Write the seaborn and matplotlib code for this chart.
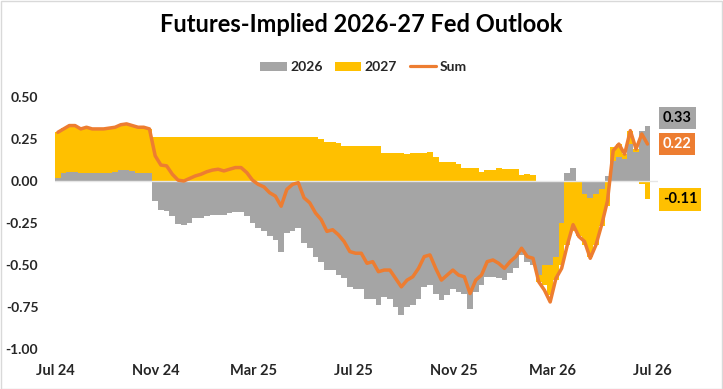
import numpy as np
import pandas as pd
import matplotlib
matplotlib.use("Agg")
import matplotlib.pyplot as plt
import seaborn as sns
from matplotlib.patches import Patch, Rectangle
from matplotlib.lines import Line2D

# ---------------- data (weekly readings) ----------------
week_start = "2024-07-01"
fed_2026 = [0.02, 0.05, 0.055, 0.055, 0.05, 0.05, 0.048, 0.048, 0.05, 0.05,
            0.055, 0.065, 0.065, 0.06, 0.05, 0.05, 0.045, -0.12, -0.17, -0.18,
            -0.21, -0.255, -0.26, -0.25, -0.22, -0.22, -0.21, -0.20, -0.20, -0.205,
            -0.19, -0.185, -0.185, -0.21, -0.25, -0.28, -0.30, -0.33, -0.35, -0.42,
            -0.31, -0.30, -0.28, -0.37, -0.40, -0.45, -0.48, -0.53, -0.53, -0.56,
            -0.58, -0.63, -0.64, -0.64, -0.70, -0.70, -0.74, -0.69, -0.70, -0.75,
            -0.80, -0.75, -0.74, -0.70, -0.63, -0.62, -0.67, -0.71, -0.68, -0.64,
            -0.66, -0.67, -0.76, -0.66, -0.62, -0.57, -0.57, -0.58, -0.59, -0.55,
            -0.52, -0.44, -0.48, -0.50, -0.56, -0.50, -0.50, -0.45, -0.25, 0.05,
            0.08, 0.0, -0.08, -0.10, -0.08, -0.05, 0.03, 0.12, 0.14, 0.13,
            0.22, 0.17, 0.30, 0.33]
fed_2027 = [0.27, 0.265, 0.275, 0.275, 0.26, 0.27, 0.262, 0.262, 0.26, 0.265,
            0.265, 0.27, 0.275, 0.27, 0.27, 0.27, 0.265, 0.264, 0.264, 0.264,
            0.264, 0.264, 0.264, 0.264, 0.264, 0.264, 0.264, 0.264, 0.264, 0.264,
            0.264, 0.264, 0.264, 0.264, 0.264, 0.264, 0.264, 0.264, 0.264, 0.264,
            0.264, 0.264, 0.264, 0.264, 0.264, 0.264, 0.25, 0.23, 0.23, 0.225,
            0.21, 0.21, 0.21, 0.21, 0.21, 0.21, 0.21, 0.168, 0.168, 0.165,
            0.165, 0.16, 0.165, 0.165, 0.165, 0.17, 0.14, 0.115, 0.115, 0.115,
            0.10, 0.08, 0.08, 0.08, 0.055, 0.065, 0.065, 0.075, 0.07, 0.07,
            0.07, 0.035, 0.04, 0.035, -0.04, -0.12, -0.18, -0.14, -0.25, -0.38,
            -0.30, -0.33, -0.30, -0.35, -0.30, -0.22, -0.15, 0.08, 0.08, 0.03,
            0.08, 0.02, -0.02, -0.11]
fed_sum = [0.29, 0.31, 0.33, 0.33, 0.31, 0.32, 0.31, 0.31, 0.31, 0.315,
           0.32, 0.335, 0.34, 0.33, 0.32, 0.32, 0.31, 0.15, 0.095, 0.09,
           0.04, 0.005, 0.0, 0.015, 0.03, 0.04, 0.055, 0.065, 0.07, 0.06,
           0.07, 0.08, 0.08, 0.05, 0.005, -0.02, -0.035, -0.07, -0.09, -0.15,
           -0.05, -0.02, -0.01, -0.10, -0.13, -0.19, -0.23, -0.30, -0.29, -0.32,
           -0.36, -0.42, -0.43, -0.43, -0.49, -0.48, -0.54, -0.53, -0.53, -0.58,
           -0.63, -0.59, -0.57, -0.52, -0.45, -0.44, -0.52, -0.59, -0.56, -0.53,
           -0.56, -0.57, -0.67, -0.59, -0.56, -0.48, -0.47, -0.49, -0.52, -0.48,
           -0.45, -0.40, -0.45, -0.46, -0.60, -0.65, -0.72, -0.58, -0.52, -0.38,
           -0.26, -0.33, -0.36, -0.46, -0.38, -0.26, -0.12, 0.18, 0.22, 0.16,
           0.30, 0.19, 0.28, 0.22]
tick_dates = ["2024-07-01", "2024-11-01", "2025-03-01", "2025-07-01",
              "2025-11-01", "2026-03-01", "2026-07-01"]
tick_labels = ["Jul 24", "Nov 24", "Mar 25", "Jul 25", "Nov 25", "Mar 26", "Jul 26"]
y_ticks = [-1.0, -0.75, -0.5, -0.25, 0.0, 0.25, 0.5]
series_names = ["2026", "2027", "Sum"]

# ---------------- styling ----------------
C_GRAY = "#A5A5A5"
C_GOLD = "#FFC000"
C_ORANGE = "#ED7D31"

sns.set_style("white")
plt.rcParams["font.family"] = ["Lato", "DejaVu Sans"]
plt.rcParams["font.weight"] = "bold"

W, H = 723, 389
fig = plt.figure(figsize=(W / 100, H / 100), dpi=100)

x0, x_end = pd.Timestamp("2024-07-01"), pd.Timestamp("2026-07-08")
px_per_day = 597 / 730.0
ax_w = (x_end - x0).days * px_per_day
ax = fig.add_axes([55 / W, (H - 349) / H, ax_w / W, 252 / H])

dates = pd.date_range(week_start, periods=len(fed_2026), freq="7D") + pd.Timedelta(days=3.5)
df = pd.DataFrame({"date": dates, "y26": fed_2026, "y27": fed_2027, "sum": fed_sum})

g = df["y26"].to_numpy()
y = df["y27"].to_numpy()
bottom27 = np.where(np.sign(y) == np.sign(g), g, 0.0)

ax.bar(df["date"], df["y26"], width=7, color=C_GRAY, linewidth=0, zorder=2)
ax.bar(df["date"], df["y27"], bottom=bottom27, width=7, color=C_GOLD, linewidth=0, zorder=2)
ax.axhline(0, color="#E6E6E6", lw=1, zorder=3)
sns.lineplot(data=df, x="date", y="sum", color=C_ORANGE, lw=2.5, ax=ax,
             legend=False, zorder=4)

ax.set_xlim(x0, x_end)
ax.set_ylim(-1.0, 0.5)
ax.set_yticks(y_ticks)
ax.set_yticklabels([f"{v:.2f}" for v in y_ticks])
ax.set_xticks(pd.to_datetime(tick_dates))
ax.set_xticklabels(tick_labels)
ax.tick_params(axis="y", length=0, pad=12, labelsize=10)
ax.tick_params(axis="x", length=0, pad=11, labelsize=10.5)
for lab in ax.get_xticklabels() + ax.get_yticklabels():
    lab.set_fontweight("bold")
ax.set_xlabel("")
ax.set_ylabel("")
for s in ax.spines.values():
    s.set_visible(False)
ax.patch.set_alpha(0)

# end-value labels
lab_x = pd.Timestamp("2026-07-14")
ax.text(lab_x, 0.375, f"{fed_2026[-1]:.2f}", ha="left", va="center", fontsize=10.5,
        fontweight="bold", color="black", zorder=6, clip_on=False,
        bbox=dict(boxstyle="square,pad=0.28", fc=C_GRAY, ec="none"))
ax.text(lab_x, fed_sum[-1], f"{fed_sum[-1]:.2f}", ha="left", va="center", fontsize=10.5,
        fontweight="bold", color="white", zorder=6, clip_on=False,
        bbox=dict(boxstyle="square,pad=0.28", fc=C_ORANGE, ec="none"))
ax.text(lab_x, fed_2027[-1], f"{fed_2027[-1]:.2f}", ha="left", va="center", fontsize=10.5,
        fontweight="bold", color="black", zorder=6, clip_on=False,
        bbox=dict(boxstyle="square,pad=0.28", fc=C_GOLD, ec="none"))

# title & legend
fig.text(0.5, 1 - 25 / H, "Futures-Implied 2026-27 Fed Outlook", ha="center", va="center",
         fontsize=17, fontweight="bold", color="black")
handles = [Patch(facecolor=C_GRAY, edgecolor="none"),
           Patch(facecolor=C_GOLD, edgecolor="none"),
           Line2D([0], [0], color=C_ORANGE, lw=2.3)]
fig.legend(handles, series_names, loc="center", bbox_to_anchor=(363.5 / W, 1 - 67 / H),
           ncol=3, frameon=False, fontsize=10, handlelength=1.9, handleheight=0.6,
           handletextpad=0.25, columnspacing=0.9, prop={"weight": "bold", "size": 10})

# light chart border
fig.patches.append(Rectangle((0.5 / W, 0.5 / H), 1 - 1.5 / W, 1 - 1.5 / H, transform=fig.transFigure,
                             fill=False, ec="#D9D9D9", lw=1))

fig.savefig("out.png", dpi=100, facecolor="white")
